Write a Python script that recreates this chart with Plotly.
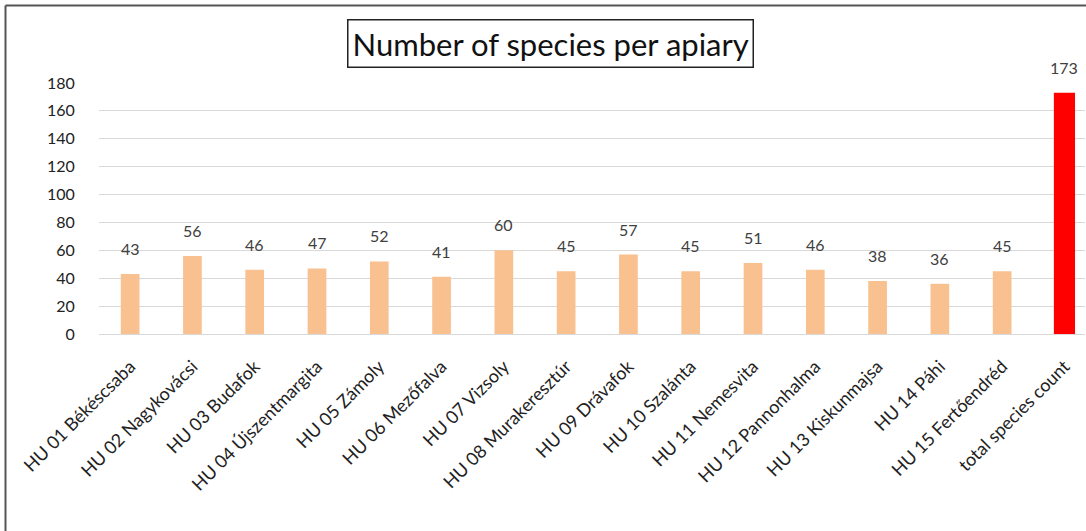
import plotly.graph_objects as go

categories = ["HU 01 Békéscsaba", "HU 02 Nagykovácsi", "HU 03 Budafok", "HU 04 Újszentmargita",
              "HU 05 Zámoly", "HU 06 Mezőfalva", "HU 07 Vizsoly", "HU 08 Murakeresztúr",
              "HU 09 Drávafok", "HU 10 Szalánta", "HU 11 Nemesvita", "HU 12 Pannonhalma",
              "HU 13 Kiskunmajsa", "HU 14 Páhi", "HU 15 Fertőendréd", "total species count"]
values = [43, 56, 46, 47, 52, 41, 60, 45, 57, 45, 51, 46, 38, 36, 45, 173]
y_ticks = [0, 20, 40, 60, 80, 100, 120, 140, 160, 180]

colors = ["#F9C090"] * (len(values) - 1) + ["#FF0000"]
widths = [0.30] * (len(values) - 1) + [0.34]

W, H = 1086, 531
ml, mr, mt, mb = 99, 1, 83, 197
pw, ph = W - ml - mr, H - mt - mb

def px_x(x):
    return (x - ml) / pw

def px_y(y):
    return (H - mb - y) / ph

font_family = "Lato, 'Open Sans', sans-serif"

fig = go.Figure(go.Bar(
    x=categories, y=values,
    marker=dict(color=colors, line=dict(width=0)),
    width=widths,
    cliponaxis=False,
))

value_labels = [dict(
    x=c, y=v, text=str(v), xref="x", yref="y", showarrow=False,
    xanchor="center", yanchor="bottom", yshift=14,
    font=dict(family=font_family, size=16, color="#404040"),
) for c, v in zip(categories, values)]

title_box = dict(
    text="Number of species per apiary", xref="paper", yref="paper",
    x=px_x(550), y=px_y(44), xanchor="center", yanchor="middle",
    showarrow=False, font=dict(family=font_family, size=31, color="#111111"),
    bordercolor="#222222", borderwidth=1.5, borderpad=4, bgcolor="white",
)

fig.update_layout(
    width=W, height=H,
    margin=dict(l=ml, r=mr, t=mt, b=mb),
    paper_bgcolor="white", plot_bgcolor="white",
    showlegend=False,
    font=dict(family=font_family, color="#333333"),
    xaxis=dict(
        tickangle=-45, tickfont=dict(size=18, color="#222222"),
        range=[-0.5, 15.33], showgrid=False, ticks="outside", ticklen=14,
        tickcolor="rgba(0,0,0,0)", showline=False, automargin=False,
    ),
    yaxis=dict(
        range=[0, 180], tickvals=y_ticks, tickfont=dict(size=16, color="#222222"),
        gridcolor="#D9D9D9", gridwidth=1, zeroline=True, zerolinecolor="#D9D9D9",
        zerolinewidth=1, ticks="outside", ticklen=20, tickcolor="rgba(0,0,0,0)",
        automargin=False,
    ),
    annotations=value_labels + [title_box],
    shapes=[
        dict(type="line", xref="paper", yref="paper", x0=px_x(5.5), x1=px_x(1090),
             y0=px_y(5.5), y1=px_y(5.5), line=dict(color="#555555", width=2)),
        dict(type="line", xref="paper", yref="paper", x0=px_x(5.5), x1=px_x(5.5),
             y0=px_y(5.5), y1=px_y(540), line=dict(color="#555555", width=2)),
    ],
)

fig.write_html("out.html", config={"displayModeBar": False},
               post_script="document.body.style.margin='0';document.body.style.overflow='hidden';")
